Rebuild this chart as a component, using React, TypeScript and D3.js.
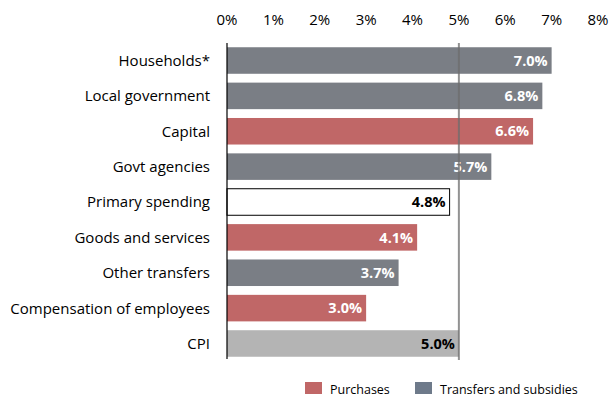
import React from 'react';
import * as d3 from 'd3';

const categories = [
  'Households*',
  'Local government',
  'Capital',
  'Govt agencies',
  'Primary spending',
  'Goods and services',
  'Other transfers',
  'Compensation of employees',
  'CPI',
];
const values = [7.0, 6.8, 6.6, 5.7, 4.8, 4.1, 3.7, 3.0, 5.0];
// t = transfers, p = purchases, s = primary spending (outline), c = CPI
const kinds = ['t', 't', 'p', 't', 's', 'p', 't', 'p', 'c'];
const ticks = [0, 1, 2, 3, 4, 5, 6, 7, 8];
const cpiLine = 5;
const legendItems = ['Purchases', 'Transfers and subsidies'];

const W = 610;
const H = 401;
const FONT = "'Open Sans', 'Noto Sans', sans-serif";

const fillFor: Record<string, string> = {
  t: '#7a7e85',
  p: '#c06767',
  s: '#ffffff',
  c: '#b4b4b4',
};
const labelColor: Record<string, string> = {
  t: '#ffffff',
  p: '#ffffff',
  s: '#000000',
  c: '#000000',
};

export default function App() {
  const x = d3.scaleLinear().domain([0, 8]).range([227, 598]);
  const y = d3.scaleBand<string>().domain(categories).range([43, 361]).paddingInner(0.25).paddingOuter(0.12);
  const bh = y.bandwidth();

  return (
    <svg width={W} height={H} style={{ position: 'absolute', left: 0, top: 0, fontFamily: FONT }}>
      <rect width={W} height={H} fill="#ffffff" />
      {/* top tick labels */}
      {ticks.map(t => (
        <text key={t} x={x(t)} y={25} textAnchor="middle" fontSize={15} fill="#000">
          {`${t}%`}
        </text>
      ))}

      {/* bars */}
      {categories.map((c, i) => {
        const k = kinds[i];
        const y0 = y(c)!;
        const x1 = x(values[i]);
        return (
          <g key={c}>
            <rect
              x={x(0)}
              y={y0}
              width={x1 - x(0)}
              height={bh}
              fill={fillFor[k]}
              stroke={k === 's' ? '#000' : 'none'}
              strokeWidth={k === 's' ? 1 : 0}
            />
            <text
              x={x1 - 4}
              y={y0 + bh / 2}
              dy="0.36em"
              textAnchor="end"
              fontSize={14.5}
              fontWeight="bold"
              fill={labelColor[k]}
            >
              {`${values[i].toFixed(1)}%`}
            </text>
            <text x={210} y={y0 + bh / 2} dy="0.36em" textAnchor="end" fontSize={15} fill="#000">
              {c}
            </text>
          </g>
        );
      })}

      {/* axis line */}
      <line x1={x(0)} x2={x(0)} y1={43} y2={359} stroke="#000" strokeWidth={1.2} />
      {/* CPI reference line */}
      <line x1={x(cpiLine)} x2={x(cpiLine)} y1={43} y2={360} stroke="#6e6e6e" strokeOpacity={0.75} strokeWidth={2} />

      {/* legend */}
      <rect x={305} y={382} width={17} height={12} fill="#c06767" />
      <text x={330} y={394} fontSize={12.5} fill="#000">{legendItems[0]}</text>
      <rect x={415} y={382} width={17} height={12} fill="#6e7a8a" />
      <text x={440} y={394} fontSize={12.5} fill="#000">{legendItems[1]}</text>
    </svg>
  );
}
